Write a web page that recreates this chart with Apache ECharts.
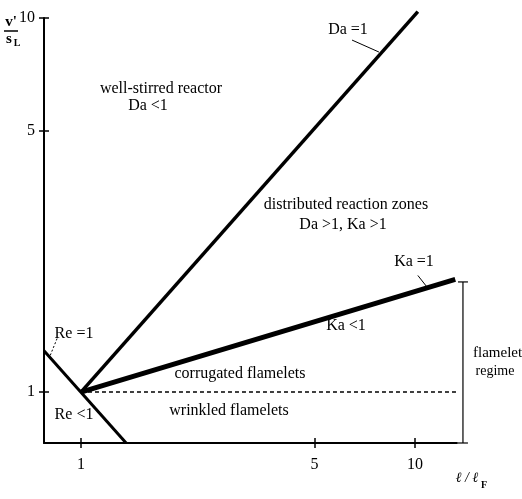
<!DOCTYPE html>
<html>
<head>
<meta charset="utf-8">
<script src="https://cdn.jsdelivr.net/npm/echarts@6/dist/echarts.min.js"></script>
<style>
  html, body { margin: 0; padding: 0; background: #fff; }
  #chart { width: 522px; height: 499px; }
</style>
</head>
<body>
<div id="chart"></div>
<script>
// Regime diagram for premixed turbulent combustion (log-log axes)
const xTicks = [1, 5, 10];
const yTicks = [1, 5, 10];
const xRange = [0.775, 13.36];
const yRange = [0.731, 10];

// Regime boundaries, [l/lF, v'/sL]
const daLine = [[1, 1], [10.2, 10.4]];          // Da = 1
const kaLine = [[1, 1], [13.2, 2.0]];           // Ka = 1
const reLine = [[0.775, 1.29], [1.365, 0.731]]; // Re = 1
const corrugatedLimit = [[1, 1], [13.3, 1]];    // v'/sL = 1
// Extent of the flamelet regime: [l/lF, top v'/sL, bottom v'/sL]
const flameletRegime = [[13.92, 1.97, 0.731]];

// Short pointers from the boundary names to their lines
const daPointer = [[6.48, 8.73], [7.8, 8.11]];
const kaPointer = [[10.2, 2.05], [10.86, 1.91]];
const rePointer = [[0.848, 1.39], [0.808, 1.25]];

const SERIF = '"Liberation Serif", "Times New Roman", serif';

function text(str, x, y, size, align, weight, style) {
  return {
    type: 'text', x: x, y: y, z: 10,
    style: {
      text: str, fill: '#000',
      font: (style || '') + ' ' + (weight || '') + ' ' + (size || 16) + 'px ' + SERIF,
      align: align || 'center', verticalAlign: 'middle'
    }
  };
}

function lineSeries(data, width, extra) {
  return Object.assign({
    type: 'line', data: data, symbol: 'none', clip: false,
    silent: true, animation: false,
    lineStyle: { color: '#000', width: width }
  }, extra || {});
}

function logAxis(range, ticks, withLabels, inside) {
  return {
    type: 'log', logBase: 10, min: range[0], max: range[1],
    axisLine: { show: withLabels, lineStyle: { color: '#000', width: 2 } },
    axisTick: { show: true, inside: inside, length: 5, customValues: ticks,
                lineStyle: { color: '#000', width: 1.5 } },
    axisLabel: { show: withLabels, customValues: ticks, color: '#000',
                 fontFamily: SERIF, fontSize: 16 },
    splitLine: { show: false },
    minorTick: { show: false }, minorSplitLine: { show: false }
  };
}

const chart = echarts.init(document.getElementById('chart'));

const xMain = Object.assign(logAxis(xRange, xTicks, true, false), { position: 'bottom' });
xMain.axisLabel.margin = 14;
const xInner = Object.assign(logAxis(xRange, xTicks, false, true), { position: 'bottom' });
const yMain = Object.assign(logAxis(yRange, yTicks, true, false), { position: 'left' });
yMain.axisLabel.margin = 9;
const yInner = Object.assign(logAxis(yRange, yTicks, false, true), { position: 'left' });

chart.setOption({
  animation: false,
  backgroundColor: '#fff',
  grid: { left: 44, right: 65, top: 18, bottom: 56 },
  xAxis: [xMain, xInner],
  yAxis: [yMain, yInner],
  series: [
    lineSeries(daLine, 3.5),
    lineSeries(kaLine, 5),
    lineSeries(reLine, 3),
    lineSeries(corrugatedLimit, 1.5, { lineStyle: { color: '#000', width: 1.5, type: [4, 3] } }),
    {
      // bracket marking the flamelet regime
      type: 'custom', clip: false, silent: true, data: flameletRegime,
      renderItem: function (params, api) {
        const top = api.coord([api.value(0), api.value(1)]);
        const bot = api.coord([api.value(0), api.value(2)]);
        const cap = 5;
        const st = { stroke: '#000', lineWidth: 1.2 };
        return {
          type: 'group',
          children: [
            { type: 'line', shape: { x1: top[0], y1: top[1], x2: bot[0], y2: bot[1] }, style: st },
            { type: 'line', shape: { x1: top[0] - cap, y1: top[1], x2: top[0] + cap, y2: top[1] }, style: st },
            { type: 'line', shape: { x1: bot[0] - cap, y1: bot[1], x2: bot[0] + cap, y2: bot[1] }, style: st }
          ]
        };
      }
    },
    lineSeries(daPointer, 1),
    lineSeries(kaPointer, 1),
    lineSeries(rePointer, 1, { lineStyle: { color: '#000', width: 1, type: [2, 2] } })
  ],
  graphic: [
    // axis titles
    text("v'", 11, 22, 15, 'center', 'bold'),
    { type: 'line', shape: { x1: 4, y1: 31, x2: 18, y2: 31 }, style: { stroke: '#000', lineWidth: 1.5 } },
    text('s', 9, 39, 15, 'center', 'bold'),
    text('L', 17, 43, 10, 'center', 'bold'),
    text('ℓ / ℓ', 467, 478, 14, 'center', '', 'italic'),
    text('F', 484, 485, 10, 'center', 'bold'),

    // regime names
    text('well-stirred reactor', 161, 89),
    text('Da <1', 148, 106),
    text('Da =1', 348, 30),
    text('distributed reaction zones', 346, 205),
    text('Da >1, Ka >1', 343, 225),
    text('Ka =1', 414, 262),
    text('Ka <1', 346, 326),
    text('corrugated flamelets', 240, 374),
    text('wrinkled flamelets', 229, 411),
    text('Re =1', 74, 334),
    text('Re <1', 74, 415),
    text('flamelet', 473, 353, 15, 'left'),
    text('regime', 495, 371, 14)
  ]
});
</script>
</body>
</html>
